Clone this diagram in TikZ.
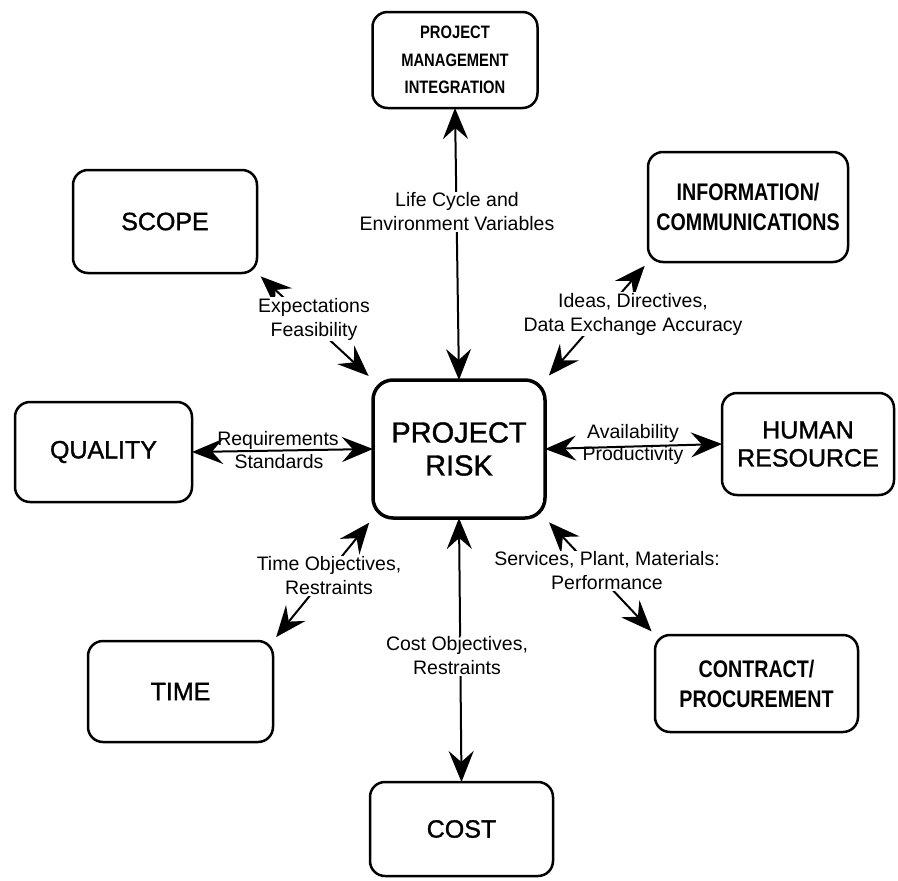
\documentclass[tikz,border=0pt]{standalone}
\usepackage{fontspec}
\setmainfont{Liberation Sans}
\newfontfamily\condfont[FakeStretch=0.82]{Liberation Sans}
\newfontfamily\medfont[FakeBold=1.3]{Liberation Sans}
\usetikzlibrary{arrows.meta}
\begin{document}
\begin{tikzpicture}[x=1pt,y=-1pt,
  box/.style={draw,line width=2.5pt,rounded corners=15pt,inner sep=0pt,outer sep=0pt,align=center},
  wide/.style={font=\medfont\fontsize{25}{28}\selectfont},
  cond/.style={font=\condfont\bfseries\fontsize{24}{30}\selectfont},
  conn/.style={line width=2pt,arrows={Stealth[length=31pt,width=25pt,inset=11pt]-Stealth[length=31pt,width=25pt,inset=11pt]}},
  lbl/.style={font=\fontsize{19.5}{24}\selectfont,align=center,inner sep=1pt},
  blank/.style={lbl,fill=white,inner sep=1pt}]
\useasboundingbox (0,0) rectangle (898,881);

% boxes
\node[box,cond,font=\condfont\bfseries\fontsize{18}{27.5}\selectfont,minimum width=165pt,minimum height=96pt] (pmi) at (455,60) {PROJECT\\MANAGEMENT\\INTEGRATION};
\node[box,wide,minimum width=184pt,minimum height=103pt] (scope) at (165,221.5) {SCOPE};
\node[box,cond,minimum width=200pt,minimum height=110pt] (info) at (748,207) {INFORMATION/\\COMMUNICATIONS};
\node[box,wide,minimum width=177pt,minimum height=100pt] (quality) at (103.5,452) {QUALITY};
\node[box,line width=3.5pt,rounded corners=20pt,font=\medfont\fontsize{29}{33}\selectfont,minimum width=172pt,minimum height=138pt] (pr) at (459,449) {PROJECT\\RISK};
\node[box,wide,minimum width=172pt,minimum height=102pt] (hr) at (808,444) {HUMAN\\RESOURCE};
\node[box,wide,minimum width=185pt,minimum height=101pt] (time) at (180.5,691.5) {TIME};
\node[box,cond,minimum width=203pt,minimum height=97pt] (contract) at (756.5,683.5) {CONTRACT/\\PROCUREMENT};
\node[box,wide,minimum width=183pt,minimum height=94pt] (cost) at (461.5,829) {COST};

% connectors
\draw[conn] (pr.north) -- (pmi.south);
\draw[conn] (pr.south) -- (cost.north);
\draw[conn] (pr.west) -- (quality.east);
\draw[conn] (pr.east) -- (hr.west);
\draw[conn,shorten <=6pt,shorten >=5pt] (pr.north west) -- (scope.south east);
\draw[conn,shorten <=6pt,shorten >=5pt] (pr.north east) -- (info.south west);
\draw[conn,shorten <=6pt,shorten >=5pt] (pr.south west) -- (time.north east);
\draw[conn,shorten <=6pt,shorten >=5pt] (pr.south east) -- (contract.north west);

% labels
\node[blank] (l1) at (457,212) {Life Cycle and\\Environment Variables};
\node[blank] (l2) at (314,319) {Expectations\\Feasibility};
\node[blank] (l3) at (633,314) {Ideas, Directives,\\Data Exchange Accuracy};
\node[lbl,anchor=base] (l4a) at (278,445) {Requirements};
\node[lbl,anchor=base] (l4b) at (279,468) {Standards};
\node[lbl,anchor=base] (l5a) at (633,438) {Availability};
\node[lbl,anchor=base] (l5b) at (633,460) {Productivity};
\node[blank] (l6) at (329,576) {Time Objectives,\\Restraints};
\node[blank] (l7) at (457,656) {Cost Objectives,\\Restraints};
\node[blank] (l8) at (607,571) {Services, Plant, Materials:\\Performance};
\end{tikzpicture}
\end{document}
